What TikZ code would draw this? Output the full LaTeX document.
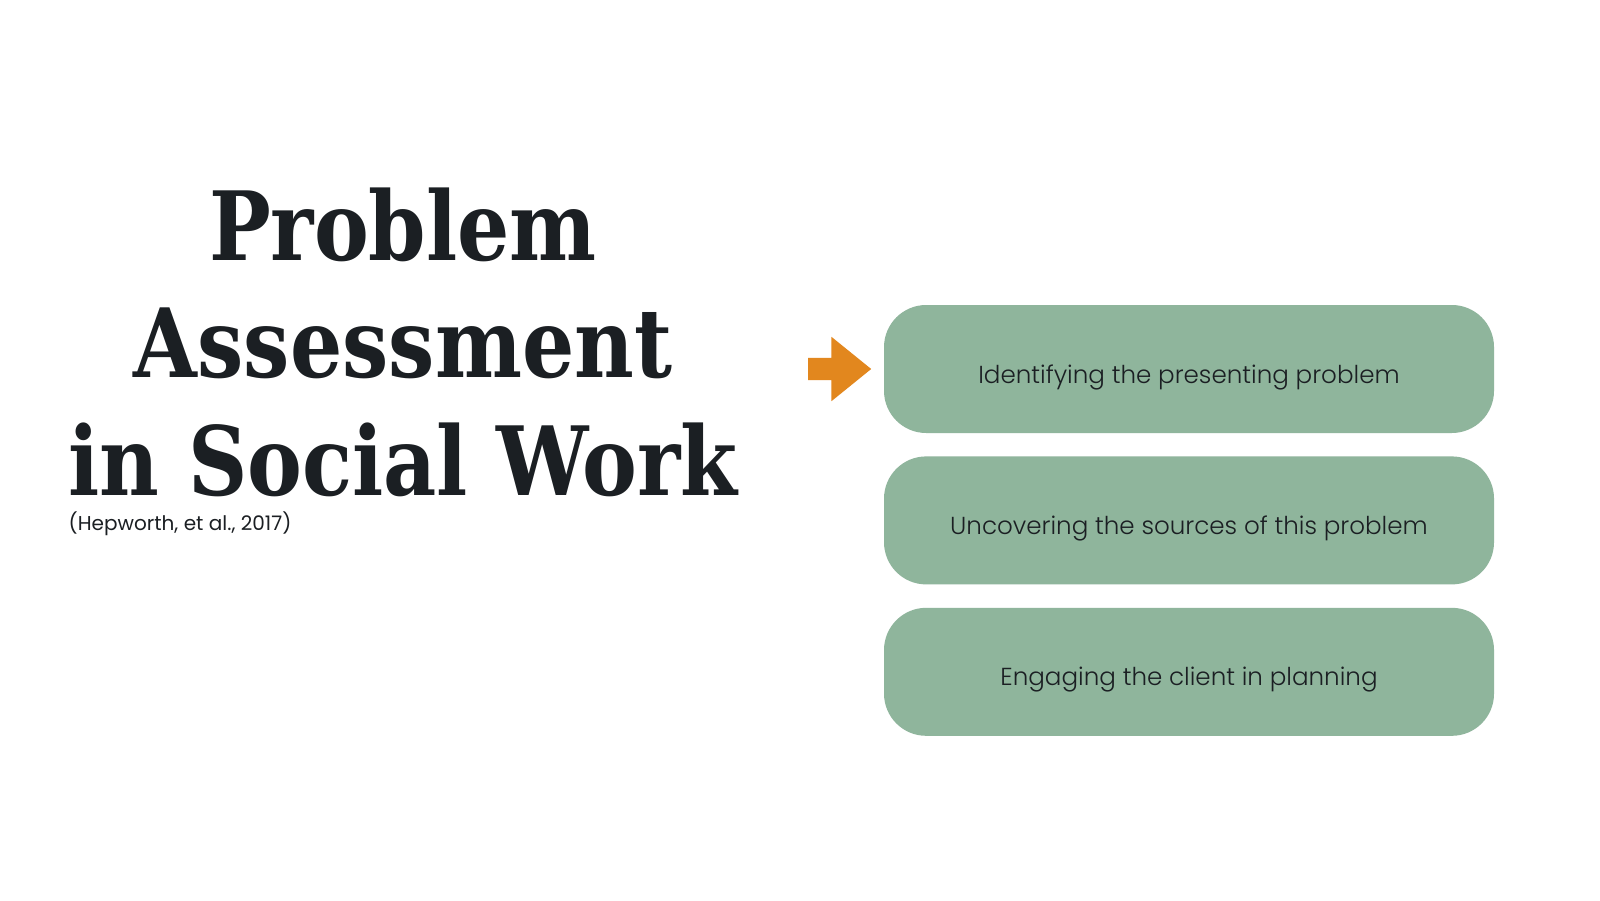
\documentclass[tikz,border=0pt]{standalone}
\usepackage{fontspec}
\usepackage{tikz}
\usetikzlibrary{positioning}
\usetikzlibrary{shapes.arrows}
\newfontfamily\titlefont[FakeStretch=0.86]{DejaVu Serif}
\newfontfamily\boxfont{Poppins Light}
\newfontfamily\citefont{Poppins}
\definecolor{sage}{HTML}{8FB59C}
\definecolor{carrot}{HTML}{E2871E}
\definecolor{ink}{HTML}{1B1F23}
\tikzset{stepbox/.style={fill=sage, rounded corners=12pt, minimum width=6.1cm,
    minimum height=1.28cm, text=ink, text height=8pt, text depth=0pt,
    font=\boxfont\fontsize{7}{8}\selectfont}}

\begin{document}
\begin{tikzpicture}
    \useasboundingbox[fill=white] (0,0) rectangle (16,9);
    % title
    \node[text=ink, font=\titlefont\bfseries\fontsize{27.2}{33.3}\selectfont, align=center, anchor=base] at (4.03, 4.05) (title) {Problem\\Assessment\\in Social Work};
    \node[text=ink, inner sep=0pt, font=\citefont\fontsize{5.7}{7}\selectfont, anchor=base west] at (0.68, 3.70) (cite) {(Hepworth, et al., 2017)};

    % steps
    \node[stepbox] at (11.89, 5.31) (identify) {Identifying the presenting problem};
    \node[stepbox, below=0.22cm of identify] (sources) {Uncovering the sources of this problem};
    \node[stepbox, below=0.22cm of sources] (engage) {Engaging the client in planning};

    \node[single arrow, fill=carrot, minimum height=0.63cm, inner sep=0.105cm,
        single arrow head extend=0.21cm, single arrow tip angle=78, anchor=tip]
        at ([xshift=-0.11cm]identify.west) (pointer) {};
\end{tikzpicture}
\end{document}
